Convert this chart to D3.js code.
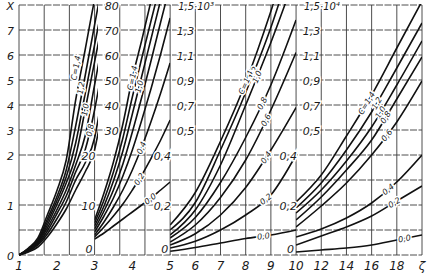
<!DOCTYPE html>
<html>
<head>
<meta charset="utf-8">
<script src="https://cdn.jsdelivr.net/npm/d3@7"></script>
<style>
  body { margin: 0; background: #fff; }
  svg text { font-family: "DejaVu Sans", sans-serif; font-style: oblique; fill: #1a1a1a; }
</style>
</head>
<body>
<div id="chart"></div>
<script>
// curve parameter, order of every series below
const cValues = [1.4, 1.2, 1.0, 0.8, 0.6, 0.4, 0.2, 0.0];

// panel 1: zeta 1..3 (curves run a little past 3), X 0..8
const zeta1 = [1, 1.25, 1.5, 1.75, 2, 2.25, 2.5, 2.75, 3, 3.12];
const curves1 = [
  [0, 0.14, 0.34, 0.80, 1.28, 1.90, 4.20, 6.20, 8.20, 9.00],
  [0, 0.12, 0.30, 0.72, 1.16, 1.70, 3.16, 5.16, 7.20, 8.16],
  [0, 0.12, 0.28, 0.66, 1.08, 1.56, 2.48, 4.44, 6.40, 7.32],
  [0, 0.10, 0.26, 0.60, 1.00, 1.44, 1.98, 3.80, 5.72, 6.64],
  [0, 0.10, 0.24, 0.54, 0.90, 1.30, 1.80, 2.76, 4.80, 5.76],
  [0, 0.08, 0.22, 0.48, 0.82, 1.18, 1.66, 2.20, 3.80, 4.76],
  [0, 0.08, 0.20, 0.42, 0.72, 1.06, 1.50, 1.84, 2.68, 3.64],
  [0, 0.06, 0.16, 0.36, 0.62, 0.92, 1.30, 1.66, 2.20, 3.08]
];

// panel 2: zeta 3..5, X 0..80
const zeta2 = [3, 3.25, 3.5, 3.75, 4, 4.25, 4.5, 4.75, 5];
const curves2 = [
  [7.0, 12.4, 18.6, 32.4, 50.8, 66.0, 82.0, 97.0, 112],
  [6.4, 11.0, 16.6, 26.8, 43.2, 58.8, 74.0, 89.0, 104],
  [5.8, 9.8, 14.8, 21.6, 36.4, 51.6, 66.8, 82.0, 97],
  [5.2, 8.8, 13.0, 18.2, 29.2, 43.2, 58.0, 73.2, 88],
  [4.6, 7.8, 11.4, 15.8, 22.0, 34.0, 46.8, 60.4, 74.8],
  [4.0, 6.6, 9.6, 13.0, 17.0, 23.2, 33.6, 44.8, 56.8],
  [3.6, 5.6, 7.8, 10.2, 13.0, 16.0, 19.4, 26.0, 34.0],
  [3.2, 4.4, 5.8, 7.2, 8.6, 10.0, 11.4, 13.0, 14.6]
];

// panel 3: zeta 5..10, X in 10^3
const zeta3 = [5, 6, 7, 8, 9, 10];
const curves3 = [
  [0.12, 0.25, 0.455, 0.88, 1.45, 2.10],
  [0.10, 0.21, 0.42, 0.80, 1.32, 1.95],
  [0.08, 0.18, 0.36, 0.70, 1.20, 1.75],
  [0.068, 0.15, 0.29, 0.47, 0.86, 1.38],
  [0.052, 0.12, 0.23, 0.38, 0.66, 1.12],
  [0.04, 0.085, 0.16, 0.27, 0.42, 0.68],
  [0.028, 0.055, 0.10, 0.16, 0.24, 0.40],
  [0.015, 0.03, 0.048, 0.066, 0.08, 0.10]
];

// panel 4: zeta 10..20, X in 10^4
const zeta4 = [10, 12, 14, 16, 18, 20];
const curves4 = [
  [0.212, 0.32, 0.476, 0.78, 1.156, 1.53],
  [0.188, 0.288, 0.42, 0.644, 0.996, 1.356],
  [0.168, 0.26, 0.376, 0.524, 0.86, 1.212],
  [0.14, 0.232, 0.34, 0.46, 0.748, 1.084],
  [0.112, 0.196, 0.288, 0.40, 0.564, 0.892],
  [0.072, 0.104, 0.148, 0.208, 0.292, 0.40],
  [0.04, 0.076, 0.112, 0.156, 0.216, 0.276],
  [0.012, 0.02, 0.028, 0.04, 0.06, 0.08]
];

// tick values and labels
const yTicks1 = [0, 1, 2, 3, 4, 5, 6, 7, 8];
const yLabels1 = ["0", "1", "2", "3", "4", "5", "6", "7", "X"];
const yTicks2 = [0, 10, 20, 30, 40, 50, 60, 70, 80];
const yLabels2 = ["0", "10", "20", "30", "40", "50", "60", "70", "80"];
const yTicks3 = [0, 0.2, 0.4, 0.5, 0.7, 0.9, 1.1, 1.3, 1.5];
const yLabels3 = ["0", "0,2", "0,4", "0,5", "0,7", "0,9", "1,1", "1,3", "1,5·10³"];
const yLabels4 = ["0", "0,2", "0,4", "0,5", "0,7", "0,9", "1,1", "1,3", "1,5·10⁴"];
const xTicks1 = [1, 2, 3];
const xTicks2 = [4, 5];
const xTicks3 = [6, 7, 8, 9];
const xTicks4 = [10, 12, 14, 16, 18, 20];
const xLabels4 = ["10", "12", "14", "16", "18", "ζ"];

// which curves carry a label, at which zeta, and a sideways nudge in px
const curveLabels1 = [[0, 2.66, -6], [1, 2.69, -2], [2, 2.67, 3], [3, 2.64, 9]];
const curveLabels2 = [[0, 4.0, 0], [2, 4.18, 0], [5, 4.24, 0], [6, 4.18, 0], [7, 4.47, 0]];
const curveLabels3 = [[0, 8.0, 0], [1, 8.3, 0], [2, 8.45, 0], [3, 8.65, 0], [4, 8.8, 0], [5, 8.8, 0], [6, 8.8, 0], [7, 8.7, 0]];
const curveLabels4 = [[0, 15.6, 0], [1, 16.4, 0], [2, 16.7, 0], [3, 17.1, 0], [4, 17.2, 0], [5, 17.3, 0], [6, 17.8, 0], [7, 18.6, 0]];

const W = 440, H = 275;
const svg = d3.select("#chart").append("svg").attr("width", W).attr("height", H);

// common grid: 16 columns, 10 rows
const gridX = d3.scaleLinear().domain([0, 16]).range([19, 422]);
const gridY = d3.scaleLinear().domain([0, 10]).range([255, 5]);

const panels = [
  { zeta: zeta1, curves: curves1, zr: [1, 3], cols: [0, 3], yd: [0, 2, 8], rows: [0, 4, 10],
    yTicks: yTicks1, yLabels: yLabels1, xTicks: xTicks1, xLabels: xTicks1.map(String), labels: curveLabels1, clipRight: 98 },
  { zeta: zeta2, curves: curves2, zr: [3, 5], cols: [3, 6], yd: [0, 20, 80], rows: [0, 4, 10],
    yTicks: yTicks2, yLabels: yLabels2, xTicks: xTicks2, xLabels: xTicks2.map(String), labels: curveLabels2 },
  { zeta: zeta3, curves: curves3, zr: [5, 10], cols: [6, 11], yd: [0, 0.5, 1.5], rows: [0, 5, 10],
    yTicks: yTicks3, yLabels: yLabels3, xTicks: xTicks3, xLabels: xTicks3.map(String), labels: curveLabels3 },
  { zeta: zeta4, curves: curves4, zr: [10, 20], cols: [11, 16], yd: [0, 0.5, 1.5], rows: [0, 5, 10],
    yTicks: yTicks3, yLabels: yLabels4, xTicks: xTicks4, xLabels: xLabels4, labels: curveLabels4 }
];

panels.forEach(p => {
  p.x = d3.scaleLinear().domain(p.zr).range([gridX(p.cols[0]), gridX(p.cols[1])]);
  p.y = d3.scaleLinear().domain(p.yd).range(p.rows.map(gridY));
});

// grid lines
const grid = svg.append("g").attr("stroke", "#3a3a3a").attr("stroke-width", 0.9);
grid.selectAll("line.v").data(d3.range(0, 17)).enter().append("line")
  .attr("x1", d => gridX(d)).attr("x2", d => gridX(d))
  .attr("y1", gridY(10)).attr("y2", gridY(0));
grid.selectAll("line.h").data(d3.range(0, 11)).enter().append("line")
  .attr("x1", gridX(0)).attr("x2", gridX(16))
  .attr("y1", d => gridY(d)).attr("y2", d => gridY(d))
  .attr("stroke-dasharray", "7,1.5");

// curves
const defs = svg.append("defs");
panels.forEach((p, i) => {
  const x0 = p.x.range()[0];
  const x1 = p.clipRight || p.x.range()[1];
  defs.append("clipPath").attr("id", "clip" + i).append("rect")
    .attr("x", x0).attr("y", gridY(10) - 1).attr("width", x1 - x0).attr("height", gridY(0) - gridY(10) + 2);

  const line = d3.line().x(d => p.x(d[0])).y(d => p.y(d[1])).curve(d3.curveMonotoneX);
  svg.append("g").attr("clip-path", "url(#clip" + i + ")")
    .selectAll("path").data(p.curves).enter().append("path")
    .attr("d", vals => line(p.zeta.map((z, k) => [z, vals[k]])))
    .attr("fill", "none").attr("stroke", "#111").attr("stroke-width", 1.6);

  // curve labels
  p.labels.forEach(([ci, z, dx]) => {
    const pts = p.zeta.map((zz, k) => [p.x(zz), p.y(p.curves[ci][k])]);
    const px = p.x(z);
    let k = pts.findIndex(q => q[0] >= px);
    if (k < 1) k = 1;
    const a = pts[k - 1], b = pts[k];
    const t = (px - a[0]) / (b[0] - a[0]);
    const py = a[1] + t * (b[1] - a[1]);
    const ang = Math.atan2(b[1] - a[1], b[0] - a[0]) * 180 / Math.PI;
    const txt = ci === 0 ? "C=1,4" : cValues[ci].toFixed(1).replace(".", ",");
    svg.append("text")
      .attr("transform", `translate(${px + dx},${py}) rotate(${ang})`)
      .attr("text-anchor", "middle").attr("dy", "0.35em")
      .attr("font-size", 8)
      .attr("stroke", "#fff").attr("stroke-width", 3).attr("paint-order", "stroke")
      .text(txt);
  });
});

// axis labels
const labels = svg.append("g").attr("font-size", 11);
panels.forEach((p, i) => {
  const xa = p.x.range()[0];
  p.yTicks.forEach((v, k) => {
    const row = gridY.invert(p.y(v));
    const last = k === p.yTicks.length - 1;
    let x, y = p.y(v) + 5, anchor = "end";
    if (i === 0) { x = 14; }
    else if (last && i > 1) { x = xa + 8; anchor = "start"; }
    else if (k === 0) { x = xa - 2; y = gridY(0) - 2; }
    else if (row < 4.5) { x = xa + 1; }
    else { x = gridX(p.cols[0] + 1) - 1; }
    labels.append("text").attr("x", x).attr("y", y)
      .attr("text-anchor", anchor)
      .attr("stroke", "#fff").attr("stroke-width", 3).attr("paint-order", "stroke")
      .attr("font-size", last && i > 1 ? 10 : 11)
      .text(p.yLabels[k]);
  });
  p.xTicks.forEach((v, k) => {
    labels.append("text").attr("x", p.x(v)).attr("y", 270)
      .attr("text-anchor", "middle").attr("font-size", 12)
      .text(p.xLabels[k]);
  });
});
</script>
</body>
</html>
